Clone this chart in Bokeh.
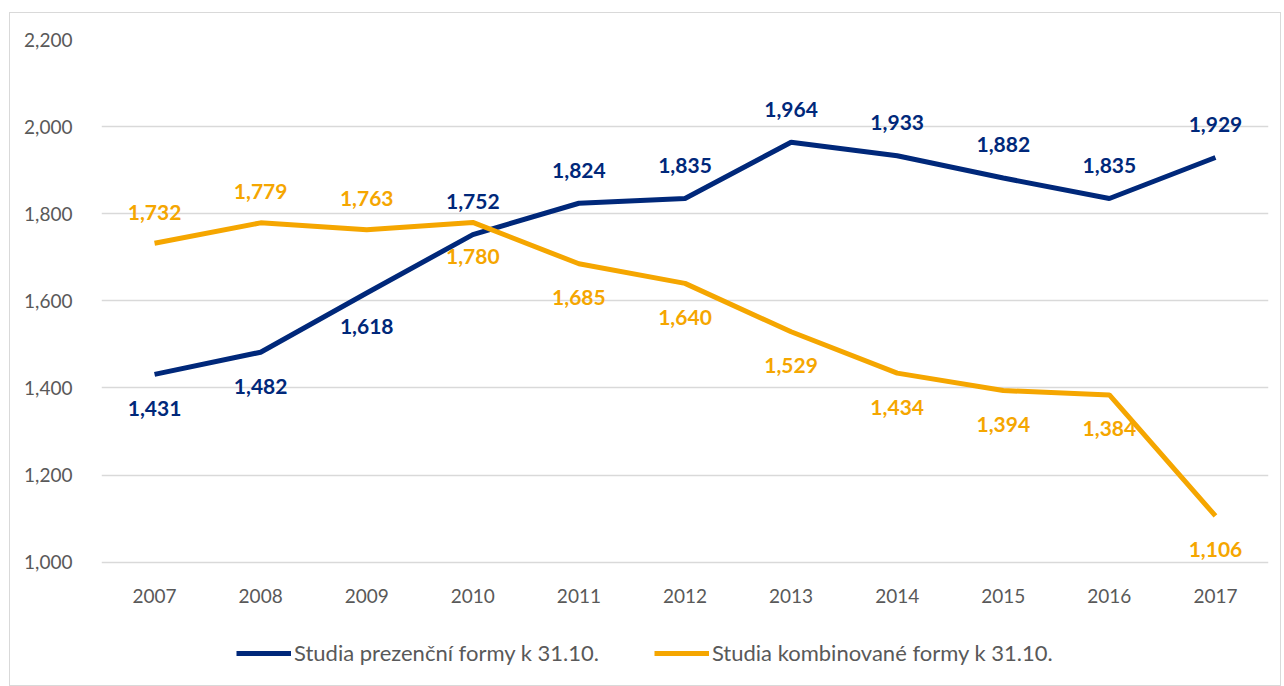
from bokeh.plotting import figure
from bokeh.models import FactorRange, Range1d, Legend, LegendItem, NumeralTickFormatter, FixedTicker
from bokeh.core.properties import value
from bokeh.embed import file_html
from bokeh.resources import INLINE

years = ["2007", "2008", "2009", "2010", "2011", "2012", "2013", "2014", "2015", "2016", "2017"]
prezencni = [1431, 1482, 1618, 1752, 1824, 1835, 1964, 1933, 1882, 1835, 1929]
kombinovane = [1732, 1779, 1763, 1780, 1685, 1640, 1529, 1434, 1394, 1384, 1106]
name_prez = "Studia prezenční formy k 31.10."
name_komb = "Studia kombinované formy k 31.10."
y_ticks = [1000, 1200, 1400, 1600, 1800, 2000, 2200]

NAVY = "#00287A"
ORANGE = "#F5A600"
FONT = "Lato"

y_min, y_max = y_ticks[0], y_ticks[-1]
# frame extends below the axis baseline to hold the legend
y_bottom = y_min - (y_max - y_min) * 121 / 521

p = figure(x_range=FactorRange(*years), y_range=Range1d(y_bottom, y_max),
           width=1272, height=674, output_backend="svg", toolbar_location=None,
           min_border_left=91, min_border_right=14, min_border_top=26, min_border_bottom=4)
p.styles = {"border": "1px solid #d9d9d9", "box-sizing": "border-box",
            "margin-left": "9px", "margin-top": "12px"}
p.outline_line_color = None
p.xgrid.grid_line_color = None
p.ygrid.grid_line_color = "#d9d9d9"
p.ygrid.grid_line_width = 1.5
p.yaxis.ticker = FixedTicker(ticks=y_ticks)
p.yaxis.formatter = NumeralTickFormatter(format="0,0")
p.xaxis.fixed_location = y_min
for ax in (p.xaxis, p.yaxis):
    ax.axis_line_color = None
    ax.major_tick_line_color = None
    ax.minor_tick_line_color = None
    ax.major_label_text_font = FONT
    ax.major_label_text_font_size = "19px"
    ax.major_label_text_color = "#595959"
p.xaxis.major_label_standoff = 21
p.yaxis.major_label_standoff = 23

r1 = p.line(years, prezencni, line_color=NAVY, line_width=5)
r2 = p.line(years, kombinovane, line_color=ORANGE, line_width=5)

# label placement: first three years the blue series sits below the orange one
n_below = 3
off_p = [34 if i < n_below else -33 for i in range(len(years))]
off_k = [-31 if i < n_below else 34 for i in range(len(years))]
for vals, offs, col in ((prezencni, off_p, NAVY), (kombinovane, off_k, ORANGE)):
    for x, v, o in zip(years, vals, offs):
        p.text(x=[x], y=[v], text=[f"{v:,}"], y_offset=o, text_align="center",
               text_baseline="middle", text_font=value(FONT), text_font_style="bold",
               text_font_size="21px", text_color=col)

legend = Legend(items=[LegendItem(label=name_prez, renderers=[r1]),
                       LegendItem(label=name_komb, renderers=[r2])],
                orientation="horizontal", location=(135, 17))
legend.glyph_width = 55
legend.glyph_height = 20
legend.label_standoff = 3
legend.spacing = 55
legend.label_text_font = FONT
legend.label_text_font_size = "22px"
legend.label_text_color = "#595959"
legend.border_line_color = None
legend.background_fill_alpha = 0
legend.margin = 0
legend.padding = 5
p.add_layout(legend)

open("out.html", "w").write(file_html(p, INLINE))
